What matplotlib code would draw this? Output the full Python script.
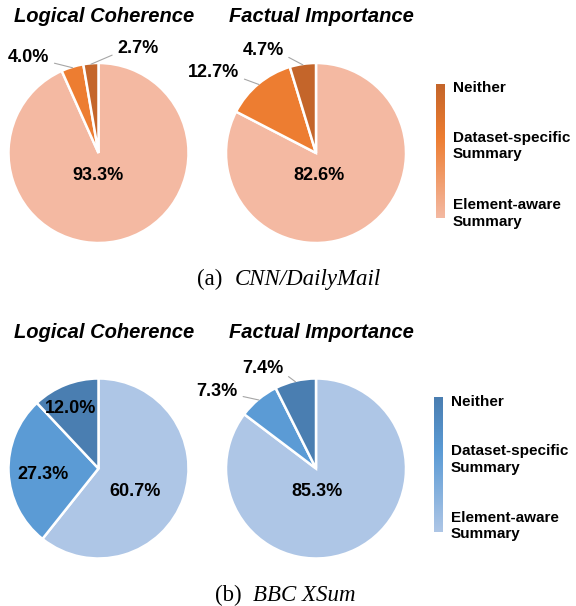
import numpy as np
import matplotlib
matplotlib.use("Agg")
import matplotlib.pyplot as plt
from matplotlib.colors import LinearSegmentedColormap

# data
categories = ["Element-aware\nSummary", "Dataset-specific\nSummary", "Neither"]
aspects = ["Logical Coherence", "Factual Importance"]
cnn_logical = [93.3, 4.0, 2.7]
cnn_factual = [82.6, 12.7, 4.7]
xsum_logical = [60.7, 27.3, 12.0]
xsum_factual = [85.3, 7.3, 7.4]

orange = ["#F4B9A2", "#ED7D31", "#C4652A"]
blue = ["#AEC6E6", "#5B9BD5", "#4A7EB1"]

# label placement in radius units, (x, y, relpos); relpos None means label inside
cnn_logical_lab = [(0.0, -0.25, None), (-0.78, 1.06, (1.0, 0.25)), (0.44, 1.16, (0.0, 0.25))]
cnn_factual_lab = [(0.03, -0.25, None), (-1.14, 0.89, (1.0, 0.25)), (-0.59, 1.14, (1.0, 0.25))]
xsum_logical_lab = [(0.41, -0.25, None), (-0.62, -0.07, None), (-0.31, 0.67, None)]
xsum_factual_lab = [(0.01, -0.25, None), (-1.10, 0.86, (1.0, 0.25)), (-0.59, 1.11, (1.0, 0.25))]

W, H = 576, 606
plt.rcParams['font.family'] = ['Liberation Sans', 'DejaVu Sans']
fig = plt.figure(figsize=(W / 100, H / 100), dpi=100)


def px_axes(cx, cy, r):
    return fig.add_axes([(cx - r) / W, 1 - (cy + r) / H, 2 * r / W, 2 * r / H])


def draw_pie(cx, cy, vals, colors, labs, title):
    ax = px_axes(cx, cy, 90)
    wedges, _ = ax.pie(vals, colors=colors, startangle=90, counterclock=False,
                       radius=1, wedgeprops=dict(edgecolor="white", linewidth=1.8))
    ax.set_xlim(-1, 1)
    ax.set_ylim(-1, 1)
    ax.axis("off")
    for w, v, (lx, ly, rel) in zip(wedges, vals, labs):
        txt = "%.1f%%" % v
        if rel is None:
            ax.text(lx, ly, txt, ha="center", va="center", fontsize=13,
                    fontweight="bold")
        else:
            mid = np.deg2rad((w.theta1 + w.theta2) / 2)
            ax.annotate(txt, xy=(0.99 * np.cos(mid), 0.99 * np.sin(mid)),
                        xytext=(lx, ly), ha="center", va="center",
                        fontsize=13, fontweight="bold", annotation_clip=False,
                        arrowprops=dict(arrowstyle="-", color="#A6A6A6", lw=0.8,
                                        relpos=rel, shrinkA=2, shrinkB=0))
    fig.text(cx / W + 0.01, 1 - (cy - 136) / H, title, ha="center", va="center",
             fontsize=14.5, fontweight="bold", fontstyle="italic")


def draw_legend(x0, y0, y1, colors, ytexts):
    lax = fig.add_axes([x0 / W, 1 - y1 / H, 9 / W, (y1 - y0) / H])
    cmap = LinearSegmentedColormap.from_list(
        "g", [(0, colors[2]), (0.4, colors[1]), (1, colors[0])])
    grad = np.linspace(0, 1, 256).reshape(-1, 1)
    lax.imshow(grad, aspect="auto", cmap=cmap)
    lax.axis("off")
    for lab, yt in zip(categories, ytexts):
        fig.text((x0 + 17) / W, 1 - yt / H, lab, ha="left", va="center",
                 fontsize=11, fontweight="bold", linespacing=1.2)


draw_pie(98.5, 153, cnn_logical, orange, cnn_logical_lab, aspects[0])
draw_pie(316, 153, cnn_factual, orange, cnn_factual_lab, aspects[1])
draw_pie(98.5, 468.5, xsum_logical, blue, xsum_logical_lab, aspects[0])
draw_pie(316, 468.5, xsum_factual, blue, xsum_factual_lab, aspects[1])

draw_legend(436, 84, 218, orange, [213.5, 146, 88])
draw_legend(434, 397, 532, blue, [526, 459.5, 402])

serif = ['Liberation Serif', 'DejaVu Serif']
fig.text(222 / W, 1 - 285 / H, "(a)", ha="right", va="baseline", fontsize=16.5, family=serif)
fig.text(235 / W, 1 - 285 / H, "CNN/DailyMail", ha="left", va="baseline", fontsize=16.5,
         family=serif, fontstyle="italic")
fig.text(242 / W, 1 - 601 / H, "(b)", ha="right", va="baseline", fontsize=16.5, family=serif)
fig.text(253 / W, 1 - 601 / H, "BBC XSum", ha="left", va="baseline", fontsize=16.5,
         family=serif, fontstyle="italic")

fig.savefig("out.png", dpi=100)
